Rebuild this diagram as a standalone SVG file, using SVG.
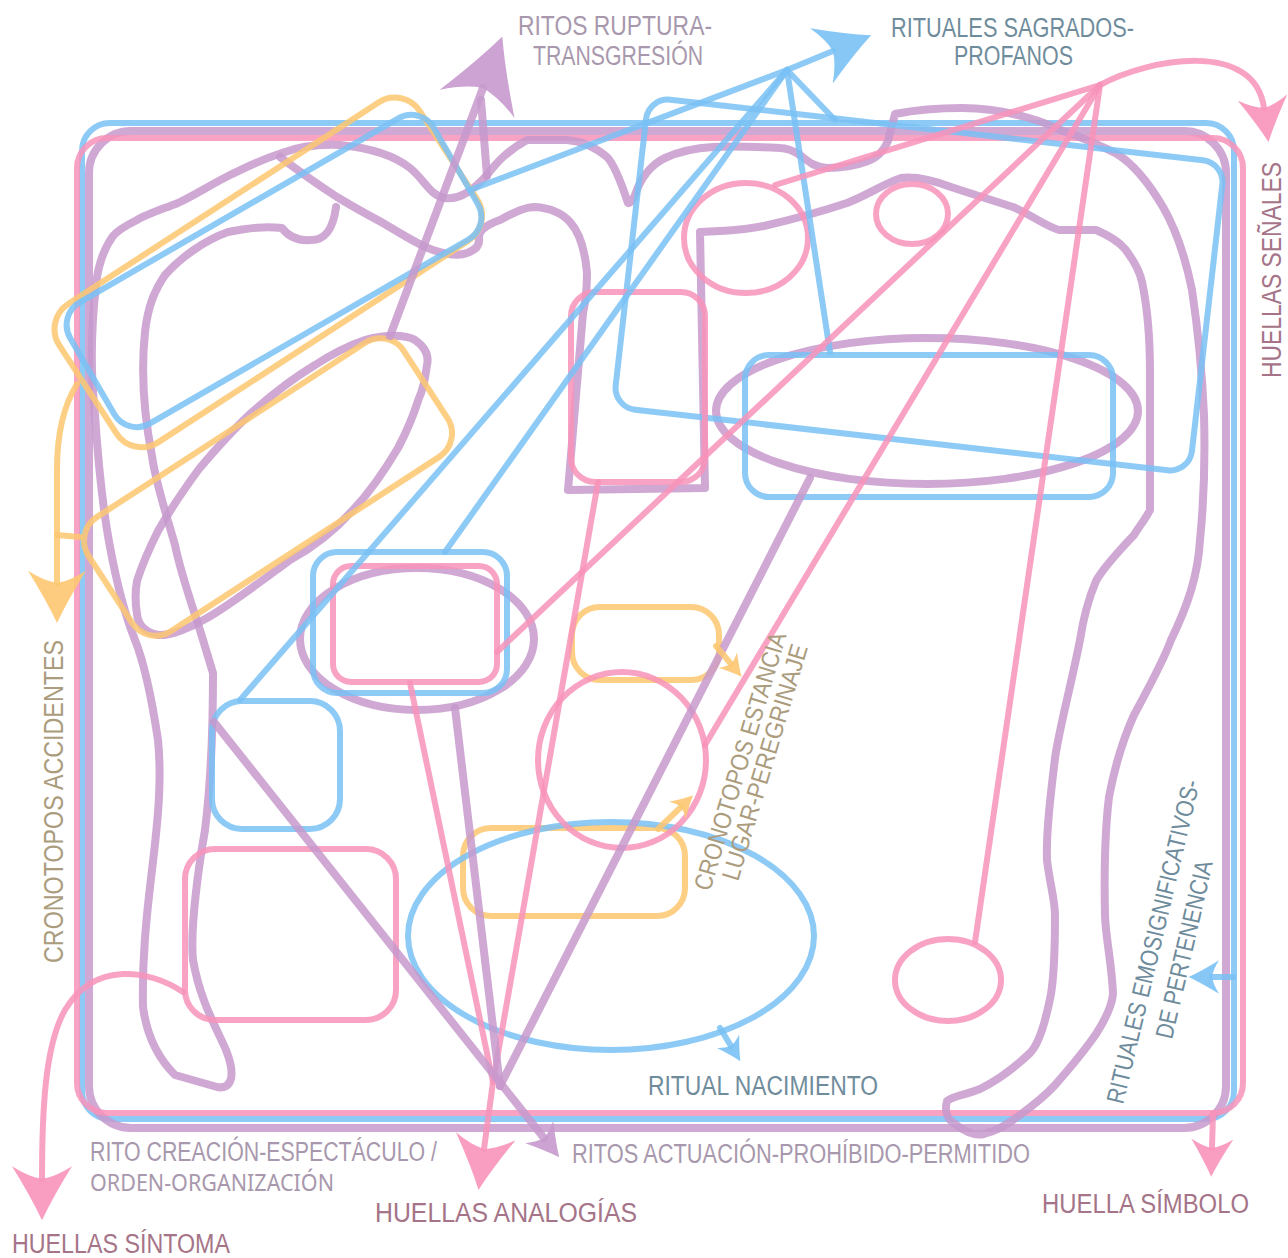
<svg xmlns="http://www.w3.org/2000/svg" width="1288" height="1258" viewBox="0 0 1288 1258">
<style>
.s{fill:none;stroke-linecap:round;stroke-linejoin:round;stroke-opacity:0.85}
.b{stroke:#79c1f5;stroke-width:6}
.k{stroke:#f893ba;stroke-width:6}
.p{stroke:#c799cd;stroke-width:8}
.o{stroke:#fdc770;stroke-width:6}
.t{font-family:"Liberation Sans",Arial,sans-serif;font-size:27px}
.tr{fill:#a898ad}
.tb{fill:#6f8c9c}
.th{fill:#a57488}
.tc{fill:#ab9c7e}
</style>
<defs>
<path id="ah" d="M0,0 Q-30,-14 -72,-40 Q-58,-18 -55,0 Q-58,18 -72,40 Q-30,14 0,0 Z"/>
<marker id="mPbig" viewBox="-72 -40 72 80" refX="-55" refY="0" markerWidth="72" markerHeight="80" markerUnits="userSpaceOnUse" orient="auto"><use href="#ah" fill="#c799cd" fill-opacity="0.9"/></marker>
<marker id="mPmid" viewBox="-72 -40 72 80" refX="-55" refY="0" markerWidth="32" markerHeight="36" markerUnits="userSpaceOnUse" orient="auto"><use href="#ah" fill="#c799cd" fill-opacity="0.9"/></marker>
<marker id="mBbig" viewBox="-72 -40 72 80" refX="-55" refY="0" markerWidth="54" markerHeight="60" markerUnits="userSpaceOnUse" orient="auto"><use href="#ah" fill="#79c1f5" fill-opacity="0.9"/></marker>
<marker id="mBmid" viewBox="-72 -40 72 80" refX="-55" refY="0" markerWidth="31" markerHeight="34" markerUnits="userSpaceOnUse" orient="auto"><use href="#ah" fill="#79c1f5" fill-opacity="0.9"/></marker>
<marker id="mBsm" viewBox="-72 -40 72 80" refX="-55" refY="0" markerWidth="24" markerHeight="26" markerUnits="userSpaceOnUse" orient="auto"><use href="#ah" fill="#79c1f5" fill-opacity="0.9"/></marker>
<marker id="mKbig" viewBox="-72 -40 72 80" refX="-55" refY="0" markerWidth="54" markerHeight="60" markerUnits="userSpaceOnUse" orient="auto"><use href="#ah" fill="#f893ba" fill-opacity="0.9"/></marker>
<marker id="mKmid" viewBox="-72 -40 72 80" refX="-55" refY="0" markerWidth="45" markerHeight="50" markerUnits="userSpaceOnUse" orient="auto"><use href="#ah" fill="#f893ba" fill-opacity="0.9"/></marker>
<marker id="mKsm" viewBox="-72 -40 72 80" refX="-55" refY="0" markerWidth="38" markerHeight="42" markerUnits="userSpaceOnUse" orient="auto"><use href="#ah" fill="#f893ba" fill-opacity="0.9"/></marker>
<marker id="mObig" viewBox="-72 -40 72 80" refX="-55" refY="0" markerWidth="53" markerHeight="58" markerUnits="userSpaceOnUse" orient="auto"><use href="#ah" fill="#fdc770" fill-opacity="0.9"/></marker>
<marker id="mOsm" viewBox="-72 -40 72 80" refX="-55" refY="0" markerWidth="22" markerHeight="24" markerUnits="userSpaceOnUse" orient="auto"><use href="#ah" fill="#fdc770" fill-opacity="0.9"/></marker>
</defs>
<rect width="1288" height="1258" fill="#ffffff"/>

<g id="frames">
<rect id="frame-blue" class="s b" x="82" y="123" width="1152" height="996" rx="28"/>
<rect id="frame-purple" class="s p" x="89" y="131" width="1137" height="997" rx="42"/>
<rect id="frame-pink" class="s k" x="77" y="138" width="1166" height="975" rx="30"/>
</g>

<g id="purple-shapes">
<path id="purple-left-blob" class="s p" d="M487,175 C472,192 458,200 445,198 C430,196 425,180 410,168 C395,156 370,148 340,145 C315,144 295,148 282,153 C260,160 245,168 232,174 C210,185 195,195 178,203 C160,210 145,215 137,220 C125,226 118,230 113,236 C103,250 98,265 96,285 C92,320 90,370 95,415 C98,460 103,510 110,547 C118,590 127,620 135,640 C145,665 152,700 158,740 C162,780 158,820 152,870 C146,920 142,960 143,1007 C146,1030 155,1055 175,1075 L217,1087 C232,1090 236,1075 226,1050 C215,1025 200,1000 193,960 C190,930 198,870 205,830 C210,790 213,740 213,673 L200,630 C190,600 180,570 175,545 C165,510 155,480 152,456 C145,420 140,380 145,332 C148,305 155,290 165,275 C180,258 205,240 228,232 C250,228 265,226 282,228 C288,236 298,241 311,240 C325,240 333,230 336,207"/>
<path id="purple-right-body" class="s p" d="M280,157 C300,172 320,186 337,197 C355,208 370,216 383,223 C400,233 418,245 433,250 C448,255 460,256 467,253 C476,250 480,245 479,238 C478,232 485,225 500,220 C515,212 525,207 535,207 C550,208 562,213 570,222 C580,233 585,250 587,273 C587,290 586,300 583,313 L568,490 L705,488 L700,232 C730,231 750,229 764,226 C790,220 820,212 847,203 C870,194 885,183 901,178 C915,176 935,181 951,187 C975,195 995,201 1013,207 C1030,214 1045,226 1059,230 L1096,230 C1110,236 1120,243 1125,249 C1135,262 1140,272 1142,282 C1148,310 1150,340 1150,373 L1150,510 C1145,520 1138,528 1134,535 C1115,555 1102,570 1096,581 C1088,600 1083,620 1080,640 C1070,690 1060,725 1055,758 C1050,800 1046,835 1047,860 C1050,885 1055,900 1055,916 C1055,950 1054,975 1051,994 C1045,1025 1038,1045 1030,1053 C1010,1072 992,1083 980,1089 C965,1095 952,1096 947,1101 C944,1112 948,1120 955,1124 C965,1132 975,1136 984,1134 C995,1131 1005,1126 1013,1120 C1030,1108 1045,1096 1055,1085 C1070,1068 1085,1050 1096,1034 C1105,1020 1112,1005 1113,994 C1112,965 1106,940 1105,916 C1104,870 1105,830 1109,797 C1115,765 1125,735 1134,715 C1150,685 1163,662 1171,640 C1188,605 1198,575 1200,540 C1204,500 1205,450 1204,415 C1202,370 1198,330 1192,290 C1185,255 1175,228 1163,207 C1150,185 1135,165 1117,154 C1100,145 1080,137 1063,131 C1050,125 1040,121 1029,118 C1005,111 985,108 962,108 C940,108 915,110 895,114 C892,125 890,133 888,141 C884,150 877,158 868,161 C855,166 840,168 827,168 C815,167 810,163 800,155 C792,150 785,148 780,148 C760,147 735,146 713,147 C695,148 678,152 665,158 C650,165 640,180 635,195 C633,200 630,204 628,203 C622,185 615,165 607,157 C595,147 580,141 567,140 L527,140 C505,152 495,165 487,175"/>
<path id="purple-tilted-loop" class="s p" d="M365,340 C380,335 405,334 415,340 C425,347 429,356 427,365 C425,380 423,390 419,398 C412,420 405,435 398,448 C385,470 370,492 353,510 C335,530 312,548 290,560 C260,582 230,605 207,618 C190,628 170,636 158,635 C145,632 138,625 137,614 C135,602 135,592 137,581 C142,565 150,547 158,531 C170,510 185,488 199,469 C215,450 232,431 249,415 C270,396 292,379 315,365 C332,354 350,345 365,340 Z"/>
<ellipse id="purple-ellipse-mid" class="s p" cx="417" cy="639" rx="117" ry="71"/>
<ellipse id="purple-ellipse-right" class="s p" cx="927" cy="411" rx="211" ry="73"/>
</g>

<g id="orange-shapes">
<rect id="orange-tilted-top" class="s o" x="-215" y="-82" width="430" height="165" rx="30" transform="translate(268,272) rotate(-33)"/>
<rect id="orange-tilted-low" class="s o" x="-188" y="-68" width="376" height="136" rx="28" transform="translate(268,487) rotate(-33)"/>
<rect id="orange-center" class="s o" x="572" y="607" width="147" height="73" rx="28"/>
<rect id="orange-lower" class="s o" x="463" y="828" width="222" height="88" rx="28"/>
</g>

<g id="blue-shapes">
<rect id="blue-tilted-left" class="s b" x="-210" y="-70" width="420" height="140" rx="26" transform="translate(274,271) rotate(-30)"/>
<rect id="blue-tilted-right" class="s b" x="-290" y="-156" width="580" height="312" rx="22" transform="translate(919,285) rotate(6.5)"/>
<rect id="blue-rect-right" class="s b" x="745" y="355" width="368" height="142" rx="24"/>
<rect id="blue-rect-mid" class="s b" x="313" y="552" width="194" height="141" rx="24"/>
<rect id="blue-rect-small" class="s b" x="212" y="701" width="128" height="128" rx="30"/>
<ellipse id="blue-ellipse" class="s b" cx="611" cy="936" rx="203" ry="114"/>
</g>

<g id="pink-shapes">
<rect id="pink-rect-top" class="s k" x="571" y="292" width="134" height="190" rx="24"/>
<ellipse id="pink-circle-top" class="s k" cx="746" cy="238" rx="62" ry="55"/>
<ellipse id="pink-circle-small" class="s k" cx="912" cy="214" rx="36" ry="30"/>
<rect id="pink-rect-mid" class="s k" x="333" y="566" width="164" height="116" rx="18"/>
<ellipse id="pink-circle-mid" class="s k" cx="622" cy="760" rx="84" ry="88"/>
<rect id="pink-rect-low" class="s k" x="185" y="849" width="211" height="171" rx="30"/>
<ellipse id="pink-circle-low" class="s k" cx="948" cy="980" rx="53" ry="41"/>
</g>

<g id="connectors">
<path class="s b" d="M787,70 L833,51" marker-end="url(#mBbig)"/>
<path class="s b" d="M787,70 L470,190"/>
<path class="s b" d="M787,70 L445,552"/>
<path class="s b" d="M787,70 L240,700"/>
<path class="s b" d="M787,70 L830,352"/>
<path class="s b" d="M787,70 L835,120"/>
<path class="s b" d="M720,1028 L731,1046" marker-end="url(#mBsm)"/>
<path class="s b" d="M1233,977 L1212,977" marker-end="url(#mBmid)"/>
<path class="s k" d="M1100,85 L775,185"/>
<path class="s k" d="M1100,85 L497,652"/>
<path class="s k" d="M1100,85 L705,745"/>
<path class="s k" d="M1100,85 L975,942"/>
<path class="s k" d="M1100,85 C1150,58 1255,40 1264,108" marker-end="url(#mKmid)"/>
<path class="s k" d="M410,683 L493,1082"/>
<path class="s k" d="M598,482 L493,1082 L484,1149" marker-end="url(#mKbig)"/>
<path class="s k" d="M183,992 C150,970 95,960 65,1010 C45,1045 42,1110 42,1179" marker-end="url(#mKbig)"/>
<path class="s k" d="M1213,1113 L1212,1148" marker-end="url(#mKsm)"/>
<path class="s p" d="M390,336 L483,88" marker-end="url(#mPbig)"/>
<path class="s p" d="M487,176 L481,100"/>
<path class="s p" d="M455,708 L500,1086"/>
<path class="s p" d="M810,478 L500,1086"/>
<path class="s p" d="M214,722 L544,1138" marker-end="url(#mPmid)"/>
<path class="s o" d="M77,384 C62,408 57,440 57,470 L57,583" marker-end="url(#mObig)"/>
<path class="s o" d="M57,535 L80,537"/>
<path class="s o" d="M716,646 L731,664" marker-end="url(#mOsm)"/>
<path class="s o" d="M658,829 L681,807" marker-end="url(#mOsm)"/>
</g>

<g id="labels">
<text class="t tr" x="518" y="35" textLength="194" lengthAdjust="spacingAndGlyphs">RITOS RUPTURA-</text>
<text class="t tr" x="533" y="65" textLength="170" lengthAdjust="spacingAndGlyphs">TRANSGRESIÓN</text>
<text class="t tb" x="891" y="37" textLength="243" lengthAdjust="spacingAndGlyphs">RITUALES SAGRADOS-</text>
<text class="t tb" x="954" y="65" textLength="119" lengthAdjust="spacingAndGlyphs">PROFANOS</text>
<text class="t th" transform="translate(1281,378) rotate(-90)" textLength="216" lengthAdjust="spacingAndGlyphs">HUELLAS SEÑALES</text>
<text class="t tc" transform="translate(63,963) rotate(-90)" textLength="323" lengthAdjust="spacingAndGlyphs">CRONOTOPOS ACCIDENTES</text>
<text class="t tc" style="font-size:25px" transform="translate(710,892) rotate(-73.4)" textLength="268" lengthAdjust="spacingAndGlyphs">CRONOTOPOS ESTANCIA</text>
<text class="t tc" style="font-size:25px" transform="translate(738,882) rotate(-73.4)" textLength="245" lengthAdjust="spacingAndGlyphs">LUGAR-PEREGRINAJE</text>
<text class="t tb" style="font-size:25px" transform="translate(1123,1105) rotate(-76.6)" textLength="332" lengthAdjust="spacingAndGlyphs">RITUALES EMOSIGNIFICATIVOS-</text>
<text class="t tb" style="font-size:25px" transform="translate(1172,1040) rotate(-77)" textLength="182" lengthAdjust="spacingAndGlyphs">DE PERTENENCIA</text>
<text class="t tb" x="648" y="1095" textLength="230" lengthAdjust="spacingAndGlyphs">RITUAL NACIMIENTO</text>
<text class="t tr" x="90" y="1161" textLength="347" lengthAdjust="spacingAndGlyphs">RITO CREACIÓN-ESPECTÁCULO /</text>
<text class="t tr" x="90" y="1191" textLength="244" lengthAdjust="spacingAndGlyphs" style="font-family:'Noto Sans','Liberation Sans',sans-serif;font-size:24px">ORDEN-ORGANIZACIÓN</text>
<text class="t tr" x="572" y="1163" textLength="458" lengthAdjust="spacingAndGlyphs">RITOS ACTUACIÓN-PROHÍBIDO-PERMITIDO</text>
<text class="t th" x="375" y="1222" textLength="262" lengthAdjust="spacingAndGlyphs">HUELLAS ANALOGÍAS</text>
<text class="t th" x="12" y="1253" textLength="218" lengthAdjust="spacingAndGlyphs">HUELLAS SÍNTOMA</text>
<text class="t th" x="1042" y="1213" textLength="207" lengthAdjust="spacingAndGlyphs">HUELLA SÍMBOLO</text>
</g>
</svg>
